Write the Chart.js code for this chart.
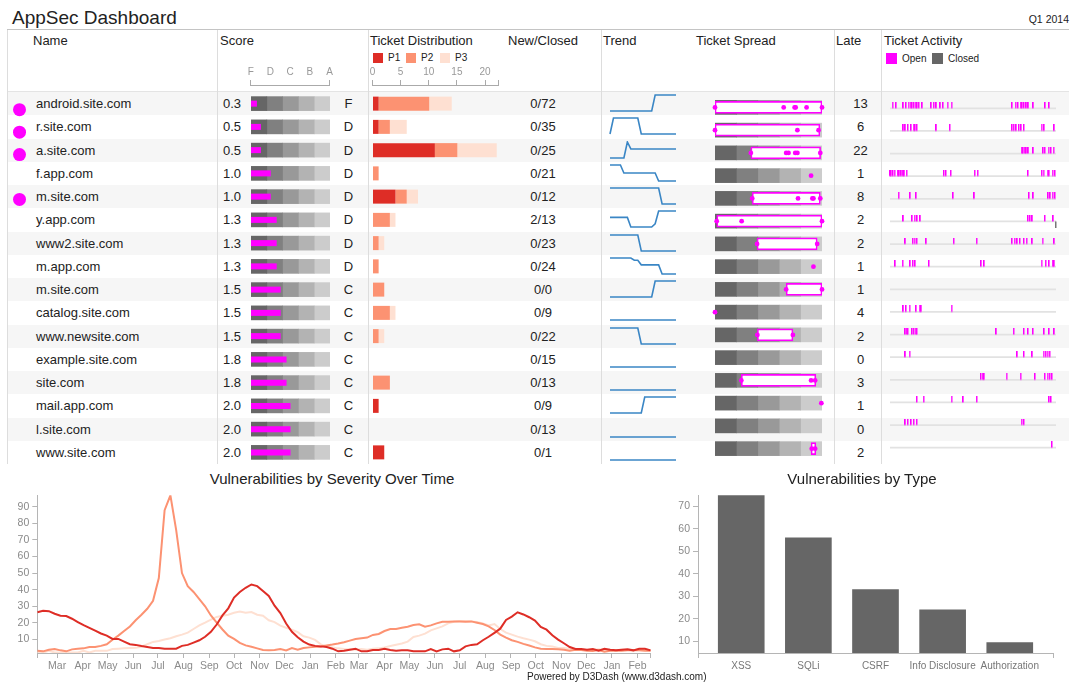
<!DOCTYPE html>
<html><head><meta charset="utf-8">
<script src="https://cdn.jsdelivr.net/npm/chart.js@4.4.1/dist/chart.umd.min.js"></script>
<style>
html,body{margin:0;padding:0;background:#fff;}
body{width:1077px;height:683px;position:relative;overflow:hidden;font-family:"Liberation Sans",Arial,Helvetica,sans-serif;color:#222;}
canvas{position:absolute;}
</style></head><body>
<script>
// ---------------- DATA ----------------
const names = ['android.site.com','r.site.com','a.site.com','f.app.com','m.site.com','y.app.com','www2.site.com','m.app.com','m.site.com','catalog.site.com','www.newsite.com','example.site.com','site.com','mail.app.com','l.site.com','www.site.com'];
const alertFlags = [1,1,1,0,1,0,0,0,0,0,0,0,0,0,0,0];
const scores = [0.3,0.5,0.5,1.0,1.0,1.3,1.3,1.3,1.5,1.5,1.5,1.8,1.8,2.0,2.0,2.0];
const grades = ['F','D','D','D','D','D','D','D','C','C','C','C','C','C','C','C'];
const gradeTickLabels = ['F','D','C','B','A'];
const gradeEdges = [0,0.8,1.6,2.4,3.2,4.0];
const p1Tickets = [1,1,11,0,4,0,0,0,0,0,0,0,0,1,0,2];
const p2Tickets = [9,2,4,1,2,3,1,1,2,3,1,0,3,0,0,0];
const p3Tickets = [4,3,7,0,2,1,1,0,0,1,1,0,0,0,0,0];
const distTicks = [0,5,10,15,20];
const newCounts = [0,0,0,0,0,2,0,0,0,0,0,0,0,0,0,0];
const closedCounts = [72,35,25,21,12,13,23,24,0,9,22,15,13,9,13,1];
const lateCounts = [13,6,22,1,8,2,2,1,1,4,2,0,3,1,0,2];
const trends = [
 [0,0,0,0,0,0,0,0,0,0,0,0,0,13,13,13,13,13,13,13],
 [0,6,6,6,6,6,6,6,6,0,0,0,0,0,0,0,0,0,0,0],
 [0,0,0,0,0,23,13,13,13,13,13,13,13,13,13,13,13,13,13,13],
 [2,2,2,2,1,1,1,1,1,1,1,1,1,1,0,0,0,0,0,0],
 [8,8,8,8,8,8,8,8,8,8,8,8,8,8,8,0,0,0,0,0],
 [3,3,3,3,3,3,0,0,0,0,0,0,0,1,5,5,5,5,5,5],
 [4,4,4,4,4,4,4,4,4,0,0,0,0,0,0,0,0,0,0,0],
 [7,7,7,7,7,7,7,6,6,4,4,4,4,4,4,0,0,0,0,0],
 [0,0,0,0,0,0,0,0,0,0,0,0,0,1,1,1,1,1,1,1],
 [0,0,0,0,0,0,0,0,0,0,0,0,0,0,0,0,0,0,0,0],
 [3,3,3,3,3,3,3,3,3,0,0,0,0,0,0,0,0,0,0,0],
 [0,0,0,0,0,0,0,0,0,0,0,0,0,0,0,0,0,0,0,0],
 [0,0,0,0,0,0,0,0,0,0,0,0,0,0,0,0,0,0,0,0],
 [0,0,0,0,0,0,0,0,0,0,1,1,1,1,1,1,1,1,1,1],
 [0,0,0,0,0,0,0,0,0,0,0,0,0,0,0,0,0,0,0,0],
 [0,0,0,0,0,0,0,0,0,0,0,0,0,0,0,0,0,0,0,0]
];
const spreadEdges = [0,20,40,60,80,100];
const spreadBoxes = [[0,100],[0,98],[33.5,98.7],null,[34.8,98.4],[1.6,100],[39.3,95.5],null,[66.5,100],null,[39.6,72.8],null,[24.6,94.2],null,null,[89.8,94.2]];
const spreadPoints = [[0,64.2,74.4,75.4,85.6,100],[0,77,96.8],[33.5,66.5,68.7,75,77,98.4],[89.8],[34.8,77.6,91,92,98.4],[1.6,24.9,100],[39.3,95.5],[92],[66.5,100],[0],[39.6,72.8],[],[24.6,89.8,93.6],[99.4],[],[90.4,93.6]];
const openTicks = [
 [1.6,3.7,8.1,9.7,11.2,12.4,13.4,14.4,15.4,16.4,17.4,19.5,24.9,26.4,28,30.4,32,34.7,37.1,73.6,75.7,77.1,78.7,79.7,80.7,82.2,83.4,86.4,93.5,95.9],
 [8.1,9.3,10.8,12.8,14.2,15.2,16.2,28.0,36.1,73.6,74.6,76.1,77.7,79.1,80.7,91.3,92.9,99.0],
 [79.3,80.3,81.1,82.2,83.4,86.4,92.3,93.3,95.5,97.0,98.6],
 [0,0.8,1.8,2.8,4.7,5.7,6.9,7.7,8.7,10.1,32.5,33.7,36.7,51.1,52.9,83.2,91.5,92.5,94.9,95.9,98.0,99.4],
 [5.3,12.2,15.8,38.1,50.9,83.8,86.4,95.3,96.6,98.0,99.4],
 [8.1,13.4,14.8,16.4,18.3,83.2,84.4,85.8,93.3,98.4],
 [9.3,13.8,14.8,16.2,21.9,38.5,52.3,73.6,75.1,76.7,78.3,80.7,82.4,85.8,91.9,99.0],
 [3.2,7.7,12.2,13.8,15.2,23.5,55.0,56.8,91.3,93.9,95.9,98.0,99.0],
 [],
 [8.1,9.7,11.8,15.8,17.8,18.9,37.1],
 [9.3,10.1,10.8,13.4,14.4,15.4,16.2,64.1,74.6,80.7,83.2,86.2,92.9,95.9,99.0],
 [9.3,11.8,76.7,80.7,85.8,92.5,93.9,94.9,96.3],
 [54.8,55.8,56.8,70.2,78.7,87.4,93.3,94.9,96.3,97.6],
 [16.2,20.3,37.1,44.2,52.3,95.9,97.0],
 [9.3,10.8,12.8,14.4,16.2,79.3,80.7],
 [97.6]
];
const closedTicks = [[],[],[],[],[],[100],[],[],[],[],[],[],[],[],[],[]];

// Vulnerabilities by severity, weekly from 2012-02-06
const seriesStart = '2012-02-06';
const p1Weekly = [26.3,27.2,27,25.4,24.2,24,22.4,20.4,18.5,16.9,15.2,13.5,12.2,10.2,10.2,8.6,7,6.6,5.9,5.3,4.7,4.7,4.3,4.3,4.3,6,6.6,8,9.4,11.5,14.5,18.9,24.4,28.7,35.2,38.6,41.1,43.1,42.1,39.2,36.2,30.3,25.8,19.5,14.5,11.2,8.6,6.8,6,5.7,5.3,4.3,2.7,3.1,3.7,4.3,2.7,2.7,3.5,3.5,4.3,3.5,3.1,3.3,3.3,2.7,2.7,2.7,4.1,2.7,3.9,4.3,2.7,3.3,5.7,6.6,7,9.4,11.5,13.9,16.4,21.7,23.7,26.3,25,23.3,21.3,17.4,15.8,12.4,9.8,7.6,5.3,4.1,4.1,3.7,4.1,3.1,4.3,3.7,3.3,3.7,3.9,3.3,4.3,4.3,3.3];
const p2Weekly = [3.1,2.7,3.7,4.1,3.3,2.7,3.9,4.3,4.5,5.3,5.3,6,7,9.7,12.2,15,17.7,21.5,24.8,28.4,33.3,47,88,97,76,50,42.1,38.6,34.3,29.9,24.4,20.1,15.9,12.2,10.2,7.8,6.3,5.5,4.5,3.5,3.3,3.5,4.1,3.3,4.7,3.7,4.7,5.1,5.5,5.7,6.3,6.8,7.4,8.2,9.2,10.2,10.6,11,12.6,13.2,15,16.2,16.2,17,17.6,18.6,19,17.6,18.4,19.6,20.6,20.6,20.8,20.8,20.6,20.8,20,19.2,17.8,15.6,12.8,11,9.4,8.4,7.2,6.2,5.1,4.3,4.1,4.1,3.9,3.7,3.1,3.7,3.5,3.1,2.9,3.5,2.5,3.1,3.1,3.1,3.3,3.5,3.3,3.1,3.1];
const p3Weekly = [2,2,3,2,2,2,2,2,3,2,3,3,3,4.1,4.3,4.5,4.7,4.9,5.5,7,8.4,9,9.8,10.6,11.8,12.8,14,16.2,18.4,20.1,21.9,23.5,24.2,24.8,26,26.8,26,26.4,24.8,24.2,21.5,20.4,18.2,17,15.8,14.3,11.8,11,9.6,6.9,5.7,5.1,4.5,4.1,3.9,3.7,4.1,3.7,4.3,4.5,5.1,5.9,6.7,7.4,8.6,11.4,12.2,13.4,15.4,16.6,17.8,19.6,20.6,21,21,20.8,20.4,19.6,18.4,19.2,16.2,14,12.8,11.6,10.6,9.8,8.8,7,6,5.7,4.7,4.7,4.3,3.7,3.7,3.3,3.7,3.9,3.7,3.3,3.3,3.7,3.5,3.3,3.9,4.1,3.1];
const monthNames = ['Jan','Feb','Mar','Apr','May','Jun','Jul','Aug','Sep','Oct','Nov','Dec'];
const severityTicks = [10,20,30,40,50,60,70,80,90];

const vulnTypes = ['XSS','SQLi','CSRF','Info Disclosure','Authorization'];
const vulnCounts = [75,56,33,24,9.4];
const typeTicks = [10,20,30,40,50,60,70];

// ---------------- LAYOUT HELPERS ----------------
const TOP = 92, ROW_H = 23.25, N = names.length, BODY_H = ROW_H * N;
const rowCenter = i => TOP + ROW_H * (i + 0.5);
const rowIdx = names.map((_, i) => i);
const MAG = '#ff00ff';
const GREYS = ['#666666','#808080','#999999','#b3b3b3','#cccccc'];
const SEV = ['#de2d26','#fc9272','#fee0d2'];
Chart.defaults.font.family = '"Liberation Sans", Arial, Helvetica, sans-serif';

function rect(x, y, w, h, color) {
  const d = document.createElement('div');
  d.style.cssText = `position:absolute;left:${x}px;top:${y}px;width:${w}px;height:${h}px;background:${color};`;
  document.body.appendChild(d);
}
function txt(s, x, y, o = {}) {
  const size = o.size || 13, lh = size + 4;
  const d = document.createElement('div');
  d.textContent = s;
  let css = `position:absolute;white-space:nowrap;font-size:${size}px;line-height:${lh}px;top:${y - lh / 2}px;color:${o.color || '#222'};`;
  if (o.align === 'center') css += `left:${x - 200}px;width:400px;text-align:center;`;
  else if (o.align === 'right') css += `left:${x - 400}px;width:400px;text-align:right;`;
  else css += `left:${x}px;`;
  d.style.cssText = css;
  document.body.appendChild(d);
}
function cv(x, y, w, h) {
  const c = document.createElement('canvas');
  c.width = w; c.height = h;
  c.style.left = x + 'px'; c.style.top = y + 'px';
  c.style.width = w + 'px'; c.style.height = h + 'px';
  document.body.appendChild(c);
  return c;
}
const base = () => ({responsive:false, animation:false, events:[], devicePixelRatio:1,
  plugins:{legend:{display:false}, tooltip:{enabled:false}, title:{display:false}}});

// ---------------- TABLE FRAME ----------------
for (let i = 0; i < N; i += 2) rect(7, TOP + ROW_H * i, 1062, ROW_H, '#f6f6f6');
rect(7, 29, 1062, 1, '#c4c4c4');
rect(7, TOP - 1, 1062, 1, '#e4e4e4');
[7, 217, 368, 601, 834, 881].forEach(x => rect(x, 30, 1, TOP + BODY_H - 30, '#dddddd'));

txt('AppSec Dashboard', 12, 17, {size:19});
txt('Q1 2014', 1069, 19, {size:10.5, align:'right'});
[['Name',33],['Score',220],['Ticket Distribution',370],['New/Closed',508],['Trend',603],['Ticket Spread',696],['Late',836],['Ticket Activity',884]]
  .forEach(([s, x]) => txt(s, x, 40));

// legends
[['P1',373,SEV[0]],['P2',406,SEV[1]],['P3',440,SEV[2]]].forEach(([s, x, c]) => { rect(x, 53, 10, 10, c); txt(s, x + 15, 58, {size:10}); });
rect(886, 53, 11, 11, MAG); txt('Open', 902, 58.5, {size:10});
rect(932, 53, 11, 11, '#666'); txt('Closed', 948, 58.5, {size:10});

// row texts
names.forEach((n, i) => {
  const y = rowCenter(i);
  txt(n, 36, y);
  txt(scores[i].toFixed(1), 223, y);
  txt(grades[i], 348.5, y, {align:'center'});
  txt(newCounts[i] + '/' + closedCounts[i], 543, y, {align:'center'});
  txt(String(lateCounts[i]), 860.5, y, {align:'center'});
});

// ---------------- ALERT DOTS ----------------
new Chart(cv(0, TOP, 39, BODY_H), {
  type:'scatter',
  data:{labels:rowIdx, datasets:[{data: rowIdx.filter(i => alertFlags[i]).map(i => ({x:0, y:i})), pointRadius:6.5, backgroundColor:MAG, borderWidth:0, clip:false}]},
  options:{...base(), scales:{x:{type:'linear', display:false, min:-1, max:1}, y:{type:'category', labels:rowIdx, offset:true, display:false}}}
});

// ---------------- SCORE BULLETS ----------------
new Chart(cv(251, TOP, 79, BODY_H), {
  type:'bar',
  data:{labels:rowIdx, datasets:[
    {data:scores, backgroundColor:MAG, barThickness:6, grouped:false, order:0, inflateAmount:0},
    ...GREYS.map((c, k) => ({data:rowIdx.map(() => [gradeEdges[k], gradeEdges[k + 1]]), backgroundColor:c, barThickness:14, grouped:false, order:1}))
  ]},
  options:{...base(), indexAxis:'y', scales:{x:{type:'linear', display:false, min:0, max:4}, y:{display:false}}}
});
// score axis header
new Chart(cv(244, 65, 92, 26), {
  type:'scatter', data:{datasets:[]},
  options:{...base(), layout:{padding:{left:6.7, right:6.5}}, scales:{
    x:{type:'linear', position:'top', min:0, max:4,
      afterBuildTicks: s => { s.ticks = gradeTickLabels.map((_, i) => ({value:i})); },
      afterFit: s => { s.height = 20; },
      ticks:{callback:(v, i) => gradeTickLabels[i], color:'#999', font:{size:10}, padding:2, maxRotation:0, autoSkip:false},
      grid:{drawOnChartArea:false, tickLength:5, color:c => (c.index === 0 || c.index === gradeTickLabels.length - 1) ? '#aaa' : 'rgba(0,0,0,0)'},
      border:{color:'#aaa'}},
    y:{display:false}}}
});

// ---------------- TICKET DISTRIBUTION ----------------
const DIST_MAX = 22.4;
new Chart(cv(372.5, TOP, 126, BODY_H), {
  type:'bar',
  data:{labels:rowIdx, datasets:[
    {data:p1Tickets, backgroundColor:SEV[0], barThickness:14, inflateAmount:0},
    {data:p2Tickets, backgroundColor:SEV[1], barThickness:14, inflateAmount:0},
    {data:p3Tickets, backgroundColor:SEV[2], barThickness:14, inflateAmount:0}
  ]},
  options:{...base(), indexAxis:'y', scales:{x:{type:'linear', stacked:true, display:false, min:0, max:DIST_MAX}, y:{stacked:true, display:false}}}
});
new Chart(cv(366, 65, 140, 26), {
  type:'scatter', data:{datasets:[]},
  options:{...base(), layout:{padding:{left:6.5, right:7.5}}, scales:{
    x:{type:'linear', position:'top', min:0, max:DIST_MAX,
      afterBuildTicks: s => { s.ticks = distTicks.concat([DIST_MAX]).map(v => ({value:v})); },
      afterFit: s => { s.height = 20; },
      ticks:{callback:v => distTicks.includes(v) ? String(v) : '', color:'#999', font:{size:10}, padding:2, maxRotation:0, autoSkip:false},
      grid:{drawOnChartArea:false, tickLength:5, color:'#aaa'},
      border:{color:'#aaa'}},
    y:{display:false}}}
});

// ---------------- TRENDS ----------------
trends.forEach((t, i) => {
  new Chart(cv(609, rowCenter(i) - 9.5, 68, 18), {
    type:'line',
    data:{labels:t.map((_, k) => k), datasets:[{data:t, borderColor:'#3a86c5', borderWidth:1.6, pointRadius:0, tension:0, clip:false}]},
    options:{...base(), layout:{padding:1}, scales:{x:{display:false}, y:{display:false, min:0, max:Math.max(1, ...t)}}}
  });
});

// ---------------- TICKET SPREAD ----------------
new Chart(cv(711, TOP, 115, BODY_H), {
  type:'bar',
  data:{labels:rowIdx, datasets:[
    {type:'scatter', data:spreadPoints.flatMap((a, r) => a.map(x => ({x, y:r}))), pointRadius:2.4, backgroundColor:MAG, borderWidth:0, order:0, clip:false},
    {data:spreadBoxes, backgroundColor:'#ffffff', borderColor:MAG, borderWidth:1.6, borderSkipped:false, barThickness:12, grouped:false, order:1},
    ...GREYS.map((c, k) => ({data:rowIdx.map(() => [spreadEdges[k], spreadEdges[k + 1]]), backgroundColor:c, barThickness:14, grouped:false, order:2}))
  ]},
  options:{...base(), indexAxis:'y', layout:{padding:{left:3, right:3}},
    scales:{x:{type:'linear', display:false, min:0, max:100}, y:{type:'category', labels:rowIdx, offset:true, display:false}}}
});

// ---------------- TICKET ACTIVITY ----------------
function tickImg(color, up) {
  const c = document.createElement('canvas'); c.width = 2; c.height = 13;
  const g = c.getContext('2d'); g.fillStyle = color;
  if (up) g.fillRect(0, 0, 1.5, 6.5); else g.fillRect(0, 6.5, 1.5, 6.5);
  return c;
}
new Chart(cv(884.5, TOP, 176, BODY_H), {
  type:'bar',
  data:{labels:rowIdx, datasets:[
    {type:'scatter', data:openTicks.flatMap((a, r) => a.map(x => ({x, y:r}))), pointStyle:tickImg(MAG, true), pointRadius:3, order:0, clip:false},
    {type:'scatter', data:closedTicks.flatMap((a, r) => a.map(x => ({x, y:r}))), pointStyle:tickImg('#777', false), pointRadius:3, order:0, clip:false},
    {data:rowIdx.map(() => [0, 100]), backgroundColor:'#e2e2e2', barThickness:1.2, grouped:false, order:1}
  ]},
  options:{...base(), indexAxis:'y', layout:{padding:{left:2, right:2}},
    scales:{x:{type:'linear', display:false, min:0, max:100}, y:{type:'category', labels:rowIdx, offset:true, display:false}}}
});

// ---------------- SEVERITY OVER TIME ----------------
txt('Vulnerabilities by Severity Over Time', 332, 478, {size:15, align:'center'});
const startMs = Date.parse(seriesStart + 'T00:00:00Z');
const weekDays = p1Weekly.map((_, i) => i * 7);
const lastDay = weekDays[weekDays.length - 1];
const monthTickMap = new Map();
(function(){
  const d0 = new Date(startMs);
  let y = d0.getUTCFullYear(), m = d0.getUTCMonth() + 1;
  for (;;) {
    const day = (Date.UTC(y, m, 1) - startMs) / 864e5;
    if (day > lastDay) break;
    monthTickMap.set(day, monthNames[m]);
    m++; if (m > 11) { m = 0; y++; }
  }
})();
const axisGrey = '#b5b5b5', labelGrey = '#8a8a8a';
new Chart(cv(0, 486, 665, 197), {
  type:'line',
  data:{datasets:[p1Weekly, p2Weekly, p3Weekly].map((s, k) => ({
    label:'P' + (k + 1), data:s.map((v, i) => ({x:weekDays[i], y:v})), borderColor:SEV[k], borderWidth:2, pointRadius:0, tension:0, order:k
  }))},
  options:{...base(), layout:{padding:{left:0, right:14.3, top:6.3, bottom:8}},
    scales:{
      x:{type:'linear', min:0, max:lastDay,
        afterBuildTicks: s => { s.ticks = [0, ...monthTickMap.keys(), lastDay].map(v => ({value:v})); },
        afterFit: s => { s.height = 22; },
        ticks:{callback:v => monthTickMap.get(v) || '', color:labelGrey, font:{size:10.5}, padding:2, maxRotation:0, autoSkip:false},
        grid:{drawOnChartArea:false, tickLength:5, color:axisGrey}, border:{color:axisGrey}},
      y:{min:1.7, max:97,
        afterBuildTicks: s => { s.ticks = severityTicks.map(v => ({value:v})); },
        afterFit: s => { s.width = 37.3; },
        ticks:{color:labelGrey, font:{size:10.5}, padding:3},
        grid:{drawOnChartArea:false, tickLength:5, color:axisGrey}, border:{color:axisGrey}}
    }}
});
txt('Powered by D3Dash (www.d3dash.com)', 527, 677, {size:10});

// ---------------- VULNERABILITIES BY TYPE ----------------
txt('Vulnerabilities by Type', 862, 478, {size:15, align:'center'});
const TYPE_MIN = -0.644, TYPE_MAX = vulnTypes.length - 1 + 0.644;
new Chart(cv(668, 486, 400, 197), {
  type:'bar',
  data:{datasets:[{data:vulnCounts.map((v, i) => ({x:i, y:v})), backgroundColor:'#666666', barThickness:46}]},
  options:{...base(), layout:{padding:{left:0, right:15, top:6.3, bottom:8}},
    scales:{
      x:{type:'linear', min:TYPE_MIN, max:TYPE_MAX, offset:false,
        afterBuildTicks: s => { s.ticks = [TYPE_MIN, ...vulnTypes.map((_, i) => i), TYPE_MAX].map(v => ({value:v})); },
        afterFit: s => { s.height = 22; },
        ticks:{callback:v => Number.isInteger(v) ? vulnTypes[v] : '', color:'#777', font:{size:10}, padding:2, maxRotation:0, autoSkip:false},
        grid:{drawOnChartArea:false, tickLength:5, offset:false, color:c => (c.tick && Number.isInteger(c.tick.value)) ? 'rgba(0,0,0,0)' : axisGrey}, border:{color:axisGrey}},
      y:{min:4.7, max:75,
        afterBuildTicks: s => { s.ticks = typeTicks.map(v => ({value:v})); },
        afterFit: s => { s.width = 30; },
        ticks:{color:labelGrey, font:{size:10.5}, padding:3},
        grid:{drawOnChartArea:false, tickLength:5, color:axisGrey}, border:{color:axisGrey}}
    }}
});
</script>
</body></html>
